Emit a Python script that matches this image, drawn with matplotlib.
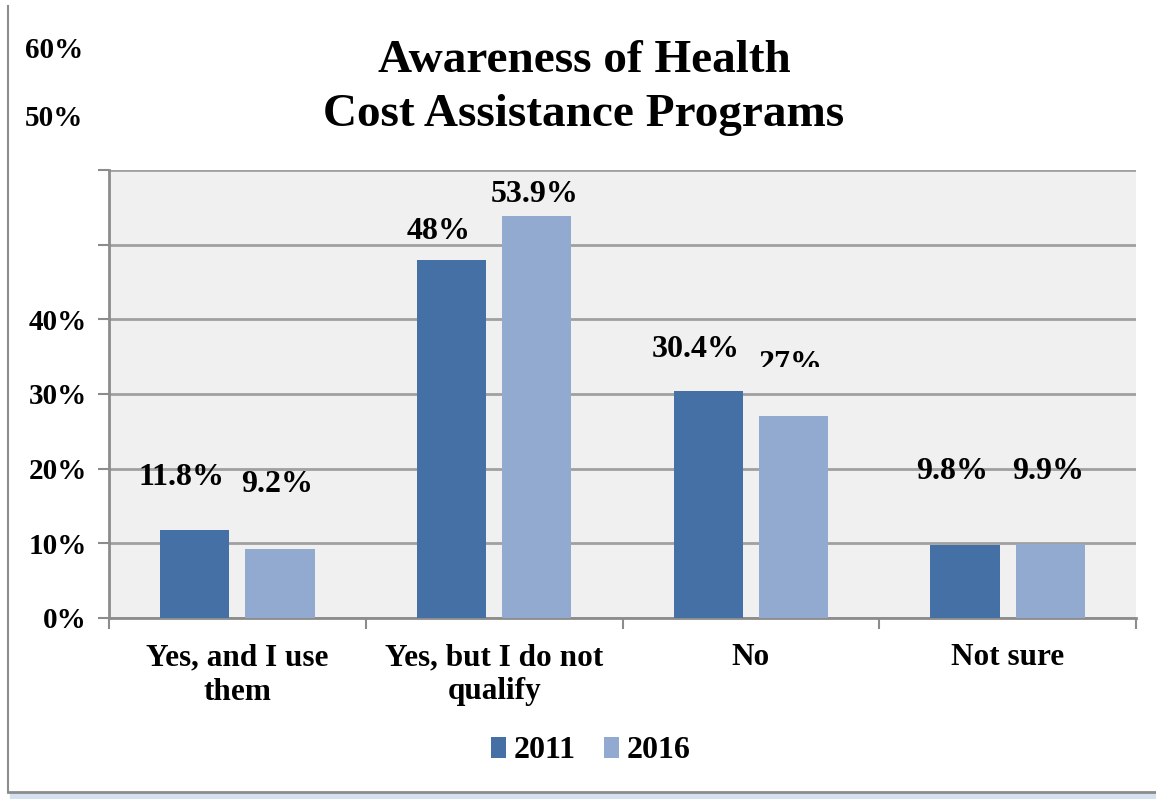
import numpy as np
import matplotlib.pyplot as plt
from matplotlib.lines import Line2D
from matplotlib.patches import Rectangle

# Dados do gráfico
categorias = ["Yes, and I use\nthem", "Yes, but I do not\nqualify", "No", "Not sure"]
valores_2011 = [11.8, 48.0, 30.4, 9.8]
valores_2016 = [9.2, 53.9, 27.0, 9.9]
rotulos_2011 = ["11.8%", "48%", "30.4%", "9.8%"]
rotulos_2016 = ["9.2%", "53.9%", "27%", "9.9%"]
ticks_y = [0, 10, 20, 30, 40, 50, 60]

# Altura (em %) onde cada rótulo de valor é desenhado
alt_rot_2011 = [18.8, 51.7, 35.9, 19.6]
alt_rot_2016 = [17.9, 56.7, 34.0, 19.6]

cor_2011 = "#4570A6"
cor_2016 = "#93AAD0"
cinza = "#8C8C8C"
fonte = "Liberation Serif"

plt.rcParams['font.family'] = fonte
plt.rcParams['font.weight'] = 'bold'

fig = plt.figure(figsize=(11.56, 7.99), dpi=100)
fig.patch.set_facecolor("white")
ax = fig.add_axes([109/1156, 1 - 618/799, (1136 - 109)/1156, (618 - 170)/799])
ax.set_facecolor("#F0F0F0")

x = np.arange(len(categorias))
larg = 0.27
desl = 0.166
ax.bar(x - desl, valores_2011, larg, color=cor_2011, label="2011", zorder=3)
ax.bar(x + desl, valores_2016, larg, color=cor_2016, label="2016", zorder=3)

ax.set_xlim(-0.5, len(categorias) - 0.5)
ax.set_ylim(0, 60)
ax.set_yticks(ticks_y)
ax.set_yticklabels([f"{t}%" if t <= 40 else "" for t in ticks_y], fontsize=21, fontweight='bold')
ax.yaxis.grid(True, color="#A0A0A0", linewidth=2, zorder=0)
ax.set_axisbelow(True)

ax.set_xticks(x)
ax.set_xticklabels(categorias, fontsize=22.5, fontweight='bold', linespacing=1.25)
ax.set_xticks(np.arange(len(categorias) + 1) - 0.5, minor=True)
ax.tick_params(axis='x', which='major', length=0, pad=18)
ax.tick_params(axis='x', which='minor', length=8, width=1.5, color=cinza, direction='out')
ax.tick_params(axis='y', length=8, width=1.5, color=cinza, direction='out', pad=8)

for lado in ["top", "right"]:
    ax.spines[lado].set_visible(False)
for lado in ["left", "bottom"]:
    ax.spines[lado].set_color(cinza)
    ax.spines[lado].set_linewidth(2)

# Rótulos 50% e 60% deslocados para o topo
for txt, ypix in [("60%", 50), ("50%", 118)]:
    fig.text(83/1156, 1 - ypix/799, txt, ha='right', va='center',
             fontsize=21, fontweight='bold')

# Rótulos de valor
for i in range(len(categorias)):
    ax.text(x[i] - desl - 0.05, alt_rot_2011[i], rotulos_2011[i], ha='center', va='center',
            fontsize=23, fontweight='bold', zorder=4)
    t = ax.text(x[i] + desl - 0.01, alt_rot_2016[i], rotulos_2016[i], ha='center', va='center',
                fontsize=23, fontweight='bold', zorder=4)
    if rotulos_2016[i] == "27%":
        corte = Rectangle((x[i], 33.6), 1, 30, transform=ax.transData)
        t.set_clip_path(corte)
        t.set_clip_on(True)

fig.text(584/1156, 1 - 88/799, "Awareness of Health\nCost Assistance Programs",
         ha='center', va='center', fontsize=34, fontweight='bold', linespacing=1.36)

leg = fig.legend(loc='center', bbox_to_anchor=(591/1156, 1 - 751/799), ncol=2,
                 frameon=False, fontsize=23, handlelength=0.45, handleheight=0.65,
                 handletextpad=0.25, columnspacing=0.9)
for t in leg.get_texts():
    t.set_fontweight('bold')

# Moldura da figura
fig.add_artist(Line2D([8/1156, 8/1156], [1 - 792/799, 1 - 6/799], color=cinza, lw=1.5))
fig.add_artist(Line2D([8/1156, 1], [1 - 792/799, 1 - 792/799], color=cinza, lw=2))
fig.add_artist(Rectangle((10/1156, 0), 1, 1 - 794/799 + 0.001, color="#D6E1EF",
                         transform=fig.transFigure))

fig.savefig("out.png", dpi=100)
